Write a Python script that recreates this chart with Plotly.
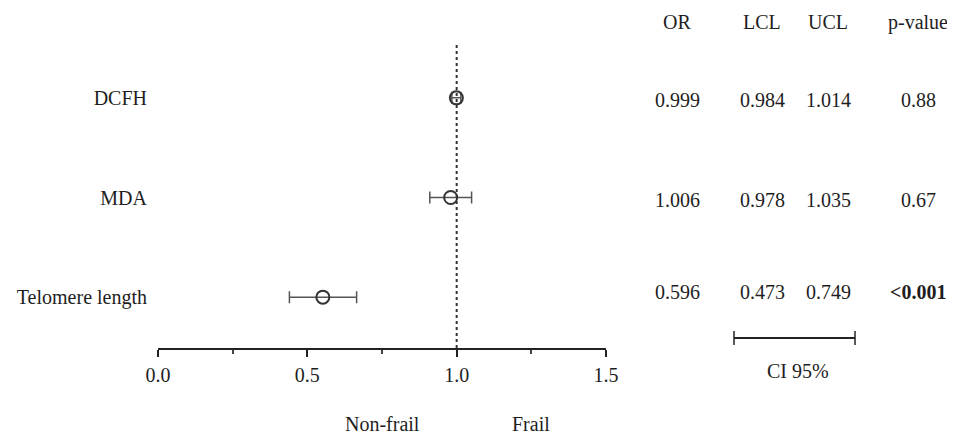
import plotly.graph_objects as go

# ---- data ----
labels = ["DCFH", "MDA", "Telomere length"]
or_plot = [0.999, 0.98, 0.552]
lcl_plot = [0.984, 0.91, 0.44]
ucl_plot = [1.014, 1.05, 0.665]

col_headers = ["OR", "LCL", "UCL", "p-value"]
or_txt = ["0.999", "1.006", "0.596"]
lcl_txt = ["0.984", "0.978", "0.473"]
ucl_txt = ["1.014", "1.035", "0.749"]
p_txt = ["0.88", "0.67", "<0.001"]
p_bold = [False, False, True]

x_ticks = [0.0, 0.5, 1.0, 1.5]
x_ticktext = ["0.0", "0.5", "1.0", "1.5"]
side_labels = ["Non-frail", "Frail"]
side_label_x = [0.75, 1.25]

# ---- layout geometry (page pixels; page body has 8px margin) ----
OFF = 8
W, H = 955 - OFF, 438 - OFF
PL, PR, PT, PB = 158, 606, 45, 348   # plot area in page pixels
L, T = PL - OFF, PT - OFF
R = W - (PR - OFF)
B = H - (PB - OFF)
PW = W - L - R
PH = H - T - B
FONT = "Liberation Serif"
TXT = "#1e1e1e"
FS = 20

def px(xp):
    return (xp - PL) / PW

def py(yp):
    return (PB - yp) / PH

ypos = [3, 2, 1]
yr = [1 - (PB - 297) / 100, 3 + (98 - PT) / 100]

fig = go.Figure()
fig.add_trace(go.Scatter(
    x=or_plot, y=ypos, mode="markers",
    marker=dict(symbol="circle-open", size=13, color="#333333", line=dict(width=2)),
    error_x=dict(type="data", symmetric=False,
                 array=[u - o for u, o in zip(ucl_plot, or_plot)],
                 arrayminus=[o - l for o, l in zip(or_plot, lcl_plot)],
                 color="#555555", thickness=1.5, width=6),
    showlegend=False, cliponaxis=False,
))

# reference line at OR = 1
fig.add_shape(type="line", x0=1, x1=1, y0=yr[0], y1=yr[1], xref="x", yref="y",
              line=dict(color="#333333", width=2, dash="dot"))

ann = []
col_x = [677, 762, 828, 918]
def add_text(t, xp, yp, xref="paper", xval=None):
    ann.append(dict(text=t, x=xval if xval is not None else px(xp), y=py(yp),
                    xref=xref, yref="paper", xanchor="center", yanchor="middle",
                    showarrow=False, font=dict(family=FONT, size=FS, color=TXT)))

for h, cx in zip(col_headers, col_x):
    add_text(h, cx, 22)
row_y = [100, 200, 292]
for i in range(3):
    vals = [or_txt[i], lcl_txt[i], ucl_txt[i],
            ("<b>%s</b>" % p_txt[i]) if p_bold[i] else p_txt[i]]
    for v, cx in zip(vals, col_x):
        add_text(v, cx, row_y[i])
# CI 95% legend bar
x0b, x1b, yb = 734, 855, 338
fig.add_shape(type="line", x0=px(x0b), x1=px(x1b), y0=py(yb), y1=py(yb),
              xref="paper", yref="paper", line=dict(color="#222222", width=2))
for xe in (x0b, x1b):
    fig.add_shape(type="line", x0=px(xe), x1=px(xe), y0=py(yb - 7), y1=py(yb + 7),
                  xref="paper", yref="paper", line=dict(color="#222222", width=1.5))
add_text("CI 95%", 798, 371)
# side labels
for t, sx in zip(side_labels, side_label_x):
    add_text(t, 0, 424, xref="x", xval=sx)

fig.update_layout(
    width=W, height=H,
    margin=dict(l=L, r=R, t=T, b=B, pad=0, autoexpand=False),
    paper_bgcolor="white", plot_bgcolor="white",
    annotations=ann,
    xaxis=dict(range=[0, 1.5], tickvals=x_ticks, ticktext=x_ticktext,
               showline=True, linecolor="#222222", linewidth=2,
               ticks="outside", ticklen=7, tickwidth=2, tickcolor="#222222",
               minor=dict(tickvals=[0.25, 0.75, 1.25], ticks="outside", ticklen=4,
                          tickwidth=1.5, tickcolor="#444444"),
               showgrid=False, zeroline=False, ticklabelstandoff=1,
               tickfont=dict(family=FONT, size=FS, color=TXT)),
    yaxis=dict(range=yr, tickvals=ypos, ticktext=labels,
               showline=False, showgrid=False, zeroline=False, ticks="",
               ticklabelstandoff=10,
               tickfont=dict(family=FONT, size=FS, color=TXT)),
)

fig.write_html("out.html")
